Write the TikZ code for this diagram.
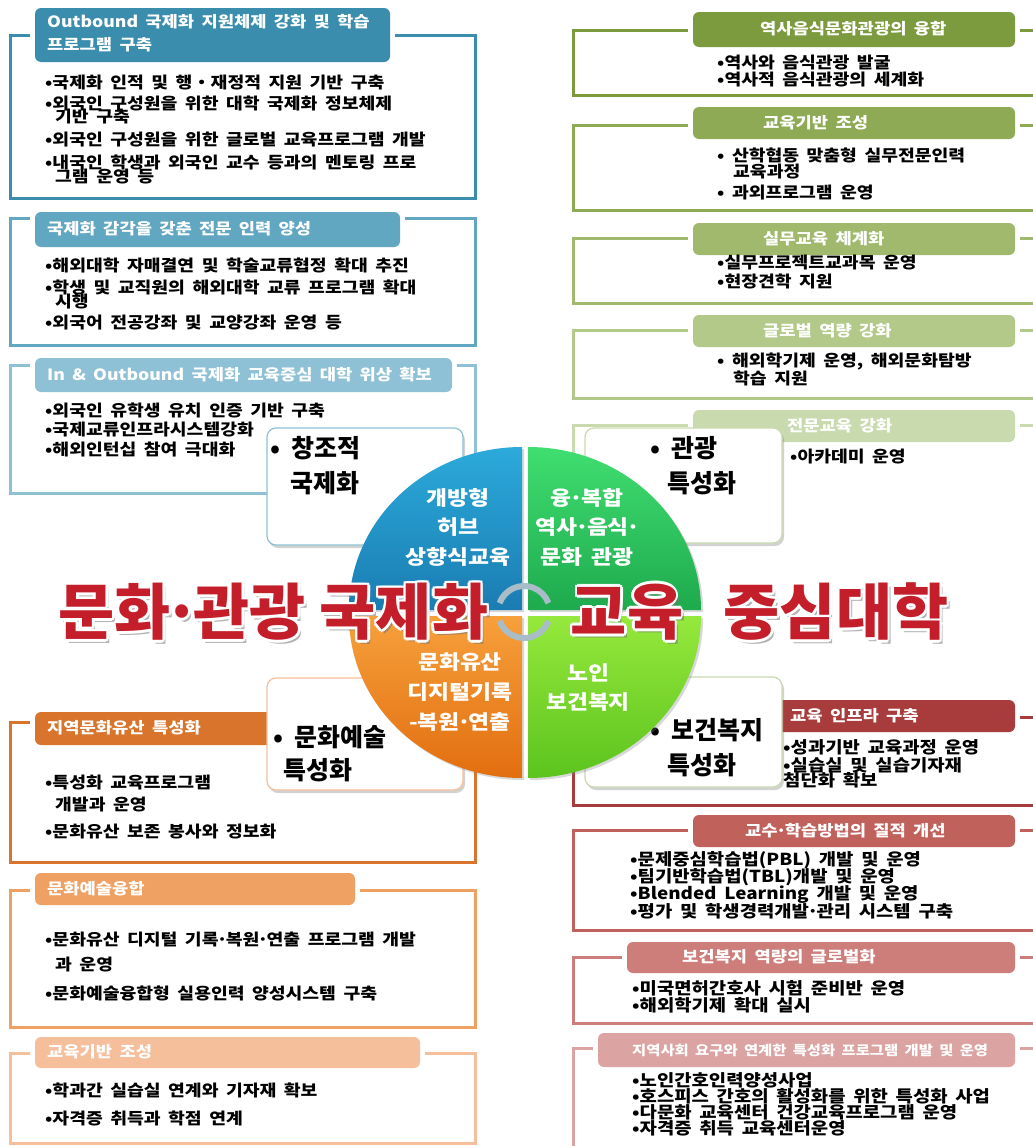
\documentclass[tikz,border=0pt]{standalone}
\usepackage{fontspec}
\newfontfamily\kr{Noto Sans CJK KR}[WordSpace=2]
\newfontfamily\krw{Noto Sans CJK KR}[WordSpace=1.8,FakeStretch=1.14]
\usetikzlibrary{shadows,calc}
\definecolor{tealA}{HTML}{3B8DAE}
\definecolor{tealB}{HTML}{62A7C2}
\definecolor{tealC}{HTML}{8EC1D5}
\definecolor{grnA}{HTML}{7C9B3E}
\definecolor{grnB}{HTML}{8FAA55}
\definecolor{grnC}{HTML}{A0B96C}
\definecolor{grnD}{HTML}{B3C98A}
\definecolor{grnE}{HTML}{C9DAAE}
\definecolor{redA}{HTML}{A83B3B}
\definecolor{redB}{HTML}{C0615C}
\definecolor{redC}{HTML}{CD7E7B}
\definecolor{redD}{HTML}{DBA3A1}
\definecolor{orgA}{HTML}{D8742B}
\definecolor{orgB}{HTML}{EFA063}
\definecolor{orgC}{HTML}{F6BF9C}
\definecolor{titlered}{HTML}{C41E2A}
\definecolor{arrowgray}{HTML}{A9BDC9}
\newcommand\mdot{\kern-0.12em·\kern-0.12em}
\newcommand\bodyf{\krw\bfseries\fontsize{16}{16}\selectfont}
\newcommand\bodyfb{\krw\bfseries\fontsize{16.5}{16.5}\selectfont}
\newcommand\hfont{\krw\bfseries\fontsize{15.5}{15.5}\selectfont}
\newcommand\boxf{\kr\bfseries\fontsize{25}{25}\selectfont}
\newcommand\qf{\krw\bfseries\fontsize{20}{20}\selectfont}
\newcommand\titlef{\kr\bfseries\fontsize{61}{61}\selectfont}
\newcommand\bline[4]{\node[body] (#1) at (#2,#3) {#4};}
\newcommand\blineb[4]{\node[body,font=\bodyfb] (#1) at (#2,#3) {#4};}
\newcommand\bigword[4]{%
  \node[title,text=black!55,opacity=0.55] (#1s) at (#2+3,#3+4) {#4};
  \foreach \a in {0,45,...,315}{\node[title,text=white] (#1o\a) at ($(#2,#3)+(\a:2.8)$) {#4};}
  \node[title,text=titlered] (#1) at (#2,#3) {#4};}
\begin{document}
\begin{tikzpicture}[x=1pt,y=-1pt,
  frame/.style={line width=3pt},
  hdr/.style={rounded corners=6pt},
  htext/.style={text=white,font=\hfont,anchor=west,inner sep=0},
  body/.style={anchor=west,inner sep=0,font=\bodyf},
  box/.style={fill=white,rounded corners=9pt,line width=1.2pt,drop shadow={shadow xshift=2pt,shadow yshift=-3pt,opacity=0.35}},
  boxt/.style={anchor=west,inner sep=0,font=\boxf},
  qtext/.style={text=white,font=\qf,inner sep=0},
  title/.style={font=\titlef,inner sep=0}]
\useasboundingbox (0,0) rectangle (1033,1146);
\clip (0,0) rectangle (1033,1146);
\fill[white] (0,0) rectangle (1033,1146);

% ---------- left top panels (teal) ----------
\draw[frame,tealA] (30,35) -- (10,35) -- (10,198) -- (475,198) -- (475,35) -- (395,35);
\fill[tealA,hdr] (35,8) rectangle (390,62);
\node[htext] (h1a) at (47,22) {Outbound 국제화 지원체제 강화 및 학습};
\node[htext] (h1b) at (47,45) {프로그램 구축};
\bline{p1a}{45}{83}{•국제화 인적 및 행・재정적 지원 기반 구축}
\bline{p1b}{45}{103}{•외국인 구성원을 위한 대학 국제화 정보체제}
\bline{p1c}{55}{117}{기반 구축}
\bline{p1d}{45}{140}{•외국인 구성원을 위한 글로벌 교육프로그램 개발}
\bline{p1e}{45}{162}{•내국인 학생과 외국인 교수 등과의 멘토링 프로}
\bline{p1f}{55}{177}{그램 운영 등}

\draw[frame,tealB] (30,218) -- (10,218) -- (10,345) -- (475,345) -- (475,218) -- (405,218);
\fill[tealB,hdr] (35,212) rectangle (400,247);
\node[htext] (h2) at (47,229) {국제화 감각을 갖춘 전문 인력 양성};
\bline{p2a}{45}{265}{•해외대학 자매결연 및 학술교류협정 확대 추진}
\bline{p2b}{45}{287}{•학생 및 교직원의 해외대학 교류 프로그램 확대}
\bline{p2c}{55}{302}{시행}
\bline{p2d}{45}{323}{•외국어 전공강좌 및 교양강좌 운영 등}

\draw[frame,tealC] (30,365) -- (10,365) -- (10,493) -- (475,493) -- (475,365) -- (457,365);
\fill[tealC,hdr] (35,358) rectangle (452,392);
\node[htext] (h3) at (47,375) {In \& Outbound 국제화 교육중심 대학 위상 확보};
\bline{p3a}{45}{410}{•외국인 유학생 유치 인증 기반 구축}
\bline{p3b}{45}{430}{•국제교류인프라시스템강화}
\bline{p3c}{45}{450}{•해외인턴십 참여 극대화}

% ---------- left bottom panels (orange) ----------
\draw[frame,orgA] (30,722) -- (10,722) -- (10,862) -- (475,862) -- (475,722) -- (305,722);
\fill[orgA,hdr] (35,712) rectangle (300,745);
\node[htext] (h4) at (47,728) {지역문화유산 특성화};
\bline{l1a}{45}{783}{•특성화 교육프로그램}
\bline{l1b}{55}{805}{개발과 운영}
\bline{l1c}{45}{832}{•문화유산 보존 봉사와 정보화}

\draw[frame,orgB] (30,890) -- (10,890) -- (10,1027) -- (475,1027) -- (475,890) -- (360,890);
\fill[orgB,hdr] (35,873) rectangle (355,905);
\node[htext] (h5) at (47,889) {문화예술융합};
\bline{l2a}{45}{940}{•문화유산 디지털 기록\mdot 복원\mdot 연출 프로그램 개발}
\bline{l2b}{55}{965}{과 운영}
\bline{l2c}{45}{993}{•문화예술융합형 실용인력 양성시스템 구축}

\draw[frame,orgC] (30,1053) -- (10,1053) -- (10,1143) -- (475,1143) -- (475,1053) -- (425,1053);
\fill[orgC,hdr] (35,1037) rectangle (420,1068);
\node[htext] (h6) at (47,1052) {교육기반 조성};
\bline{l3a}{45}{1090}{•학과간 실습실 연계와 기자재 확보}
\bline{l3b}{45}{1118}{•자격증 취득과 학점 연계}

% ---------- right top panels (green) ----------
\draw[frame,grnA] (688,30) -- (573,30) -- (573,95) -- (1040,95);
\draw[frame,grnA] (1020,30) -- (1040,30);
\fill[grnA,hdr] (693,12) rectangle (1015,47);
\node[htext] (h7) at (760,29) {역사음식문화관광의 융합};
\bline{r1a}{717}{63}{•역사와 음식관광 발굴}
\bline{r1b}{717}{80}{•역사적 음식관광의 세계화}

\draw[frame,grnB] (688,125) -- (573,125) -- (573,210) -- (1040,210);
\draw[frame,grnB] (1020,125) -- (1040,125);
\fill[grnB,hdr] (693,107) rectangle (1015,139);
\node[htext] (h8) at (763,123) {교육기반 조성};
\bline{r2a}{717}{155}{• 산학협동 맞춤형 실무전문인력}
\bline{r2b}{733}{172}{교육과정}
\bline{r2c}{717}{193}{• 과외프로그램 운영}

\draw[frame,grnC] (688,238) -- (573,238) -- (573,303) -- (1040,303);
\draw[frame,grnC] (1020,238) -- (1040,238);
\fill[grnC,hdr] (693,223) rectangle (1015,255);
\node[htext] (h9) at (763,239) {실무교육 체계화};
\bline{r3a}{717}{263}{•실무프로젝트교과목 운영}
\bline{r3b}{717}{281}{•현장견학 지원}

\draw[frame,grnD] (688,330) -- (573,330) -- (573,398) -- (1040,398);
\draw[frame,grnD] (1020,330) -- (1040,330);
\fill[grnD,hdr] (693,315) rectangle (1015,347);
\node[htext] (h10) at (763,331) {글로벌 역량 강화};
\bline{r4a}{717}{362}{• 해외학기제 운영, 해외문화탐방}
\bline{r4b}{733}{378}{학습 지원}

\draw[frame,grnE] (688,425) -- (573,425) -- (573,480);
\draw[frame,grnE] (1020,425) -- (1040,425);
\fill[grnE,hdr] (693,410) rectangle (1015,442);
\node[htext] (h11) at (787,426) {전문교육 강화};
\bline{r5a}{790}{457}{•아카데미 운영}

% ---------- right bottom panels (red) ----------
\draw[frame,redA] (735,717) -- (573,717) -- (573,805) -- (1040,805);
\draw[frame,redA] (1020,717) -- (1040,717);
\fill[redA,hdr] (740,700) rectangle (1015,732);
\node[htext] (h12) at (790,716) {교육 인프라 구축};
\blineb{b1a}{783}{747}{•성과기반 교육과정 운영}
\blineb{b1b}{783}{765}{•실습실 및 실습기자재}
\blineb{b1c}{783}{780}{첨단화 확보}

\draw[frame,redB] (688,830) -- (573,830) -- (573,930) -- (1040,930);
\draw[frame,redB] (1020,830) -- (1040,830);
\fill[redB,hdr] (693,815) rectangle (1015,847);
\node[htext] (h13) at (745,831) {교수\mdot 학습방법의 질적 개선};
\blineb{b2a}{630}{860}{•문제중심학습법(PBL) 개발 및 운영}
\blineb{b2b}{630}{877}{•팀기반학습법(TBL)개발 및 운영}
\blineb{b2c}{630}{894}{•Blended Learning 개발 및 운영}
\blineb{b2d}{630}{911}{•평가 및 학생경력개발\mdot 관리 시스템 구축}

\draw[frame,redC] (622,957) -- (573,957) -- (573,1023) -- (1040,1023);
\draw[frame,redC] (1020,957) -- (1040,957);
\fill[redC,hdr] (627,942) rectangle (1015,973);
\node[htext] (h14) at (682,957) {보건복지 역량의 글로벌화};
\blineb{b3a}{632}{988}{•미국면허간호사 시험 준비반 운영}
\blineb{b3b}{632}{1005}{•해외학기제 확대 실시}

\draw[frame,redD] (593,1048) -- (573,1048) -- (573,1160);
\draw[frame,redD] (1020,1048) -- (1040,1048);
\fill[redD,hdr] (598,1033) rectangle (1015,1067);
\node[htext,font=\krw\bfseries\fontsize{13.5}{13.5}\selectfont] (h15) at (632,1050) {지역사회 요구와 연계한 특성화 프로그램 개발 및 운영};
\blineb{b4a}{632}{1080}{•노인간호인력양성사업}
\blineb{b4b}{632}{1096}{•호스피스 간호의 활성화를 위한 특성화 사업}
\blineb{b4c}{632}{1112}{•다문화 교육센터 건강교육프로그램 운영}
\blineb{b4d}{632}{1128}{•자격증 취득 교육센터운영}

% ---------- white boxes ----------
\filldraw[box,draw=tealC] (267,428) rectangle (463,545);
\node[boxt] (k1a) at (270,448) {• 창조적};
\node[boxt] (k1b) at (290,483) {국제화};
\filldraw[box,draw=grnE] (585,428) rectangle (782,543);
\node[boxt] (k2a) at (650,448) {• 관광};
\node[boxt] (k2b) at (667,483) {특성화};
\filldraw[box,draw=orgC] (267,678) rectangle (463,790);
\node[boxt] (k3a) at (273,737) {• 문화예술};
\node[boxt] (k3b) at (283,770) {특성화};
\filldraw[box,draw=grnE] (585,677) rectangle (782,787);
\node[boxt] (k4a) at (650,730) {• 보건복지};
\node[boxt] (k4b) at (667,765) {특성화};

% ---------- central circle ----------
\shade[top color={rgb,255:red,44;green,170;blue,218},bottom color={rgb,255:red,26;green,124;blue,178},drop shadow={opacity=0.3}]
  (522,610) -- ++(-173,0) arc[start angle=180,end angle=270,x radius=173,y radius=163] -- cycle;
\shade[top color={rgb,255:red,64;green,222;blue,112},bottom color={rgb,255:red,30;green,170;blue,78},drop shadow={opacity=0.3}]
  (528,610) -- ++(0,-163) arc[start angle=270,end angle=360,x radius=173,y radius=163] -- cycle;
\shade[top color={rgb,255:red,246;green,160;blue,60},bottom color={rgb,255:red,226;green,110;blue,15},drop shadow={opacity=0.3}]
  (522,616) -- ++(-173,0) arc[start angle=180,end angle=90,x radius=173,y radius=162] -- cycle;
\shade[top color={rgb,255:red,150;green,232;blue,60},bottom color={rgb,255:red,92;green,196;blue,30},drop shadow={opacity=0.3}]
  (528,616) -- ++(173,0) arc[start angle=0,end angle=90,x radius=173,y radius=162] -- cycle;

\node[qtext] (q1a) at (458,498) {개방형};
\node[qtext] (q1b) at (458,527) {허브};
\node[qtext] (q1c) at (458,557) {상향식교육};
\node[qtext] (q2a) at (587,498) {융\mdot 복합};
\node[qtext] (q2b) at (587,527) {역사\mdot 음식\mdot};
\node[qtext] (q2c) at (587,557) {문화 관광};
\node[qtext] (q3a) at (460,662) {문화유산};
\node[qtext] (q3b) at (460,692) {디지털기록};
\node[qtext] (q3c) at (460,722) {-복원\mdot 연출};
\node[qtext] (q4a) at (588,673) {노인};
\node[qtext] (q4b) at (588,702) {보건복지};

% center cycle arcs
\coordinate (cc) at (524,612);
\draw[arrowgray,line width=6pt] ($(cc)+(200:26)$) arc[start angle=200,end angle=340,radius=26];
\draw[arrowgray,line width=6pt] ($(cc)+(160:26)$) arc[start angle=160,end angle=20,radius=26];

% ---------- title ----------
\bigword{t1}{182}{612}{문화\mdot 관광}
\bigword{t2}{404}{612}{국제화}
\bigword{t3}{627}{612}{교육}
\bigword{t4}{836}{612}{중심대학}
\end{tikzpicture}
\end{document}
